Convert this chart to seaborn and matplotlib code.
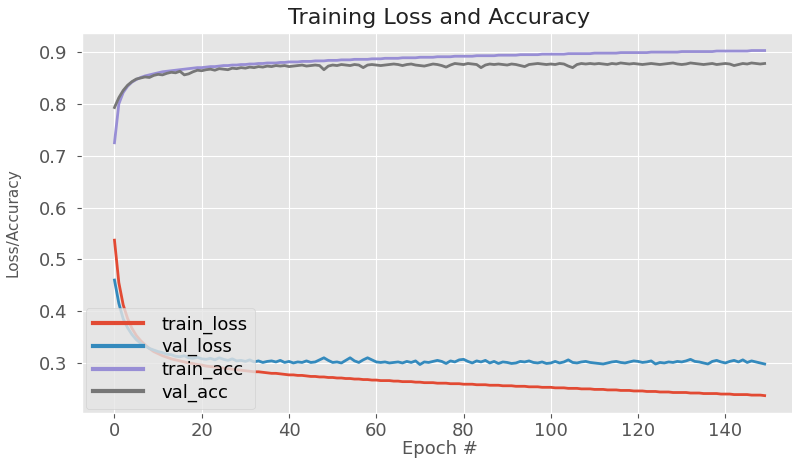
import numpy as np
import pandas as pd
import matplotlib
matplotlib.use("Agg")
import matplotlib.pyplot as plt
import seaborn as sns

train_loss = [
    0.537, 0.455, 0.412, 0.386, 0.367, 0.353, 0.343, 0.335, 0.328, 0.322,
    0.318, 0.314, 0.311, 0.308, 0.306, 0.304, 0.302, 0.300, 0.299, 0.297,
    0.296, 0.294, 0.293, 0.292, 0.291, 0.290, 0.289, 0.288, 0.287, 0.286,
    0.285, 0.284, 0.283, 0.283, 0.282, 0.281, 0.280, 0.280, 0.279, 0.278,
    0.277, 0.277, 0.276, 0.276, 0.275, 0.274, 0.274, 0.273, 0.273, 0.272,
    0.272, 0.271, 0.271, 0.270, 0.270, 0.269, 0.269, 0.268, 0.268, 0.267,
    0.267, 0.266, 0.266, 0.266, 0.265, 0.265, 0.264, 0.264, 0.264, 0.263,
    0.263, 0.262, 0.262, 0.262, 0.261, 0.261, 0.261, 0.260, 0.260, 0.260,
    0.259, 0.259, 0.259, 0.258, 0.258, 0.258, 0.257, 0.257, 0.257, 0.256,
    0.256, 0.256, 0.255, 0.255, 0.255, 0.254, 0.254, 0.254, 0.253, 0.253,
    0.253, 0.252, 0.252, 0.252, 0.251, 0.251, 0.251, 0.250, 0.250, 0.250,
    0.249, 0.249, 0.249, 0.248, 0.248, 0.248, 0.247, 0.247, 0.247, 0.246,
    0.246, 0.246, 0.245, 0.245, 0.245, 0.244, 0.244, 0.244, 0.243, 0.243,
    0.243, 0.243, 0.242, 0.242, 0.242, 0.241, 0.241, 0.241, 0.241, 0.240,
    0.240, 0.240, 0.239, 0.239, 0.239, 0.239, 0.238, 0.238, 0.238, 0.237,
]

val_loss = [
    0.460, 0.415, 0.385, 0.368, 0.355, 0.345, 0.338, 0.333, 0.328, 0.325,
    0.322, 0.320, 0.317, 0.316, 0.313, 0.312, 0.314, 0.310, 0.309, 0.311,
    0.308, 0.307, 0.309, 0.306, 0.310, 0.307, 0.305, 0.308, 0.304, 0.305,
    0.303, 0.306, 0.302, 0.304, 0.301, 0.303, 0.304, 0.302, 0.305, 0.301,
    0.303, 0.300, 0.302, 0.301, 0.304, 0.301, 0.302, 0.306, 0.310, 0.305,
    0.301, 0.302, 0.300, 0.305, 0.310, 0.304, 0.301, 0.306, 0.310, 0.306,
    0.302, 0.301, 0.302, 0.300, 0.301, 0.302, 0.300, 0.303, 0.301, 0.304,
    0.297, 0.302, 0.301, 0.303, 0.305, 0.303, 0.299, 0.304, 0.302, 0.306,
    0.307, 0.303, 0.300, 0.304, 0.302, 0.305, 0.300, 0.303, 0.299, 0.302,
    0.301, 0.299, 0.300, 0.303, 0.302, 0.304, 0.301, 0.300, 0.302, 0.299,
    0.300, 0.303, 0.300, 0.302, 0.306, 0.301, 0.300, 0.302, 0.303, 0.301,
    0.300, 0.299, 0.298, 0.300, 0.302, 0.303, 0.301, 0.300, 0.302, 0.304,
    0.303, 0.301, 0.302, 0.304, 0.298, 0.301, 0.300, 0.302, 0.301, 0.303,
    0.302, 0.304, 0.307, 0.303, 0.302, 0.300, 0.298, 0.303, 0.305, 0.302,
    0.300, 0.303, 0.305, 0.302, 0.306, 0.301, 0.304, 0.302, 0.300, 0.298,
]

train_acc = [
    0.725, 0.800, 0.822, 0.834, 0.842, 0.847, 0.851, 0.854, 0.856, 0.858,
    0.860, 0.862, 0.863, 0.864, 0.865, 0.866, 0.867, 0.868, 0.869, 0.870,
    0.870, 0.871, 0.872, 0.872, 0.873, 0.874, 0.874, 0.875, 0.875, 0.876,
    0.876, 0.877, 0.877, 0.878, 0.878, 0.879, 0.879, 0.879, 0.880, 0.880,
    0.881, 0.881, 0.881, 0.882, 0.882, 0.882, 0.883, 0.883, 0.883, 0.884,
    0.884, 0.884, 0.885, 0.885, 0.885, 0.886, 0.886, 0.886, 0.886, 0.887,
    0.887, 0.887, 0.888, 0.888, 0.888, 0.888, 0.889, 0.889, 0.889, 0.889,
    0.890, 0.890, 0.890, 0.890, 0.891, 0.891, 0.891, 0.891, 0.892, 0.892,
    0.892, 0.892, 0.892, 0.893, 0.893, 0.893, 0.893, 0.893, 0.894, 0.894,
    0.894, 0.894, 0.894, 0.895, 0.895, 0.895, 0.895, 0.895, 0.896, 0.896,
    0.896, 0.896, 0.896, 0.896, 0.897, 0.897, 0.897, 0.897, 0.897, 0.897,
    0.898, 0.898, 0.898, 0.898, 0.898, 0.898, 0.899, 0.899, 0.899, 0.899,
    0.899, 0.899, 0.899, 0.900, 0.900, 0.900, 0.900, 0.900, 0.900, 0.900,
    0.901, 0.901, 0.901, 0.901, 0.901, 0.901, 0.901, 0.901, 0.902, 0.902,
    0.902, 0.902, 0.902, 0.902, 0.902, 0.902, 0.903, 0.903, 0.903, 0.903,
]

val_acc = [
    0.793, 0.812, 0.826, 0.836, 0.843, 0.848, 0.850, 0.852, 0.851, 0.855,
    0.857, 0.856, 0.859, 0.861, 0.860, 0.863, 0.856, 0.858, 0.862, 0.865,
    0.864, 0.866, 0.867, 0.865, 0.868, 0.867, 0.866, 0.869, 0.868, 0.870,
    0.869, 0.871, 0.870, 0.872, 0.871, 0.873, 0.872, 0.874, 0.873, 0.874,
    0.872, 0.873, 0.874, 0.875, 0.873, 0.874, 0.875, 0.874, 0.866, 0.873,
    0.875, 0.874, 0.876, 0.875, 0.874, 0.876, 0.875, 0.870, 0.875, 0.876,
    0.875, 0.874, 0.875, 0.876, 0.877, 0.876, 0.874, 0.876, 0.877, 0.875,
    0.874, 0.873, 0.875, 0.877, 0.876, 0.874, 0.871, 0.875, 0.878, 0.877,
    0.876, 0.878, 0.877, 0.876, 0.870, 0.875, 0.877, 0.876, 0.877, 0.876,
    0.875, 0.877, 0.876, 0.874, 0.872, 0.876, 0.877, 0.878, 0.877, 0.876,
    0.877, 0.876, 0.878, 0.877, 0.873, 0.870, 0.876, 0.878, 0.877, 0.878,
    0.877, 0.878, 0.877, 0.876, 0.878, 0.877, 0.879, 0.878, 0.877, 0.878,
    0.877, 0.876, 0.877, 0.878, 0.877, 0.876, 0.877, 0.878, 0.879, 0.877,
    0.876, 0.877, 0.879, 0.878, 0.877, 0.876, 0.877, 0.878, 0.876, 0.877,
    0.878, 0.877, 0.874, 0.876, 0.878, 0.877, 0.879, 0.878, 0.877, 0.878,
]

series_names = ["train_loss", "val_loss", "train_acc", "val_acc"]
colors = ["#E24A33", "#348ABD", "#988ED5", "#777777"]

epochs = np.arange(len(train_loss))
frames = []
for name, vals in zip(series_names, [train_loss, val_loss, train_acc, val_acc]):
    frames.append(pd.DataFrame({"epoch": epochs, "value": vals, "series": name}))
df = pd.concat(frames, ignore_index=True)

plt.style.use("ggplot")
fig = plt.figure(figsize=(7.92, 4.59), dpi=100)
ax = fig.add_axes([0.1035, 0.1005, 0.903, 0.827])

sns.lineplot(data=df, x="epoch", y="value", hue="series",
             hue_order=series_names, palette=colors, linewidth=2.0, ax=ax)

ax.set_title("Training Loss and Accuracy", fontsize=16, color="#222222", pad=7)
ax.set_xlabel("Epoch #", fontsize=13, color="#555555", labelpad=0)
ax.set_ylabel("Loss/Accuracy", fontsize=11, color="#555555")
ax.yaxis.set_label_coords(-0.086, 0.5)
ax.tick_params(axis="both", labelsize=13, colors="#555555")
ax.tick_params(axis="y", pad=7)
ax.tick_params(axis="x", pad=3)
ax.set_xticks([0, 20, 40, 60, 80, 100, 120, 140])
ax.set_yticks([0.3, 0.4, 0.5, 0.6, 0.7, 0.8, 0.9])
ax.margins(x=0.05, y=0.05)

leg = ax.legend(loc="lower left", fontsize=13, handlelength=2.8,
                labelspacing=0.25, borderaxespad=0.2, handletextpad=1.0)
for line in leg.get_lines():
    line.set_linewidth(3.0)

fig.savefig("out.png", dpi=100)
